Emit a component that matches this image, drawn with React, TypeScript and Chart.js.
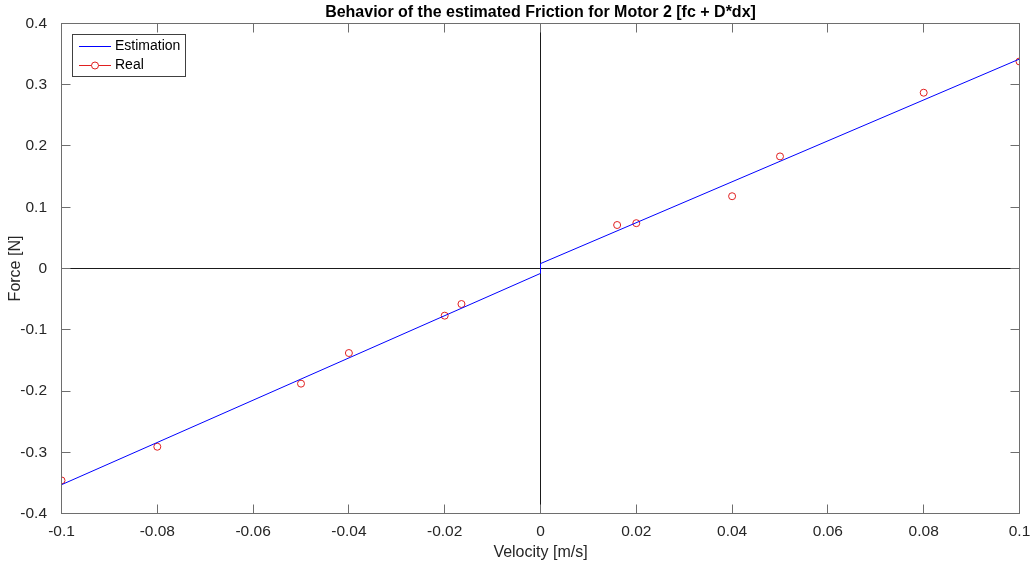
import React, { useEffect, useRef } from "react";
import { Chart, registerables } from "chart.js";

Chart.register(...registerables);

const TITLE = "Behavior of the estimated Friction for Motor 2 [fc + D*dx]";
const X_LABEL = "Velocity [m/s]";
const Y_LABEL = "Force [N]";
const LEGEND_LABELS = ["Estimation", "Real"];

const realVelocity = [-0.1, -0.08, -0.05, -0.04, -0.02, -0.0165, 0.016, 0.02, 0.04, 0.05, 0.08, 0.1];
const realForce = [-0.346, -0.291, -0.188, -0.138, -0.077, -0.058, 0.071, 0.074, 0.118, 0.183, 0.287, 0.338];

const estVelocity = [-0.1, 0, 0, 0.1];
const estForce = [-0.353, -0.008, 0.008, 0.342];

const xTicks = [-0.1, -0.08, -0.06, -0.04, -0.02, 0, 0.02, 0.04, 0.06, 0.08, 0.1];
const yTicks = [-0.4, -0.3, -0.2, -0.1, 0, 0.1, 0.2, 0.3, 0.4];

const FONT = "'Liberation Sans', Arial, Helvetica, sans-serif";
const AXIS_COLOR = "#6e6e6e";
const TEXT_COLOR = "#262626";
const BLUE = "#0000ff";
const RED = "#e02020";

const fmt = (v: number) => String(Number(v.toFixed(3)));

const matlabPlugin = {
  id: "matlab",
  beforeDatasetsDraw(chart: any) {
    const { ctx, chartArea, scales } = chart;
    const { left, right, top, bottom } = chartArea;
    const x0 = Math.round(scales.x.getPixelForValue(0) - 0.5) + 0.5;
    const y0 = Math.round(scales.y.getPixelForValue(0) - 0.5) + 0.5;
    ctx.save();
    ctx.strokeStyle = "#1a1a1a";
    ctx.lineWidth = 1;
    ctx.beginPath();
    ctx.moveTo(left, y0);
    ctx.lineTo(right, y0);
    ctx.moveTo(x0, top);
    ctx.lineTo(x0, bottom);
    ctx.stroke();
    ctx.restore();
  },
  afterDraw(chart: any) {
    const { ctx, chartArea, scales } = chart;
    const { left, right, top, bottom } = chartArea;
    ctx.save();
    // box
    ctx.strokeStyle = AXIS_COLOR;
    ctx.lineWidth = 1;
    ctx.strokeRect(left, top, right - left, bottom - top);
    // inward ticks
    const TL = 9;
    ctx.beginPath();
    xTicks.forEach((v) => {
      const px = Math.round(scales.x.getPixelForValue(v) - 0.5) + 0.5;
      ctx.moveTo(px, bottom);
      ctx.lineTo(px, bottom - TL);
      ctx.moveTo(px, top);
      ctx.lineTo(px, top + TL);
    });
    yTicks.forEach((v) => {
      const py = Math.round(scales.y.getPixelForValue(v) - 0.5) + 0.5;
      ctx.moveTo(left, py);
      ctx.lineTo(left + TL, py);
      ctx.moveTo(right, py);
      ctx.lineTo(right - TL, py);
    });
    ctx.stroke();

    // title
    const cx = (left + right) / 2;
    ctx.fillStyle = "#000";
    ctx.font = `bold 16px ${FONT}`;
    ctx.textAlign = "center";
    ctx.textBaseline = "middle";
    ctx.fillText(TITLE, cx, 13);

    // axis labels
    ctx.fillStyle = TEXT_COLOR;
    ctx.font = `16px ${FONT}`;
    ctx.fillText(X_LABEL, cx, 553);
    ctx.save();
    ctx.translate(16, (top + bottom) / 2);
    ctx.rotate(-Math.PI / 2);
    ctx.fillText(Y_LABEL, 0, 0);
    ctx.restore();

    // legend
    const lx = 72.5, ly = 34.5, lw = 113, lh = 42;
    ctx.fillStyle = "#ffffff";
    ctx.fillRect(lx, ly, lw, lh);
    ctx.strokeStyle = "#404040";
    ctx.strokeRect(lx, ly, lw, lh);
    const rows = [46.5, 65.5];
    ctx.lineWidth = 1;
    ctx.strokeStyle = BLUE;
    ctx.beginPath();
    ctx.moveTo(79, rows[0]);
    ctx.lineTo(111, rows[0]);
    ctx.stroke();
    ctx.strokeStyle = RED;
    ctx.beginPath();
    ctx.moveTo(79, rows[1]);
    ctx.lineTo(91.5, rows[1]);
    ctx.moveTo(98.5, rows[1]);
    ctx.lineTo(111, rows[1]);
    ctx.stroke();
    ctx.beginPath();
    ctx.arc(95, rows[1], 3.5, 0, Math.PI * 2);
    ctx.stroke();
    ctx.fillStyle = "#000";
    ctx.font = `14px ${FONT}`;
    ctx.textAlign = "left";
    ctx.fillText(LEGEND_LABELS[0], 115, rows[0]);
    ctx.fillText(LEGEND_LABELS[1], 115, rows[1]);
    ctx.restore();
  },
};

export default function App() {
  const ref = useRef<HTMLCanvasElement | null>(null);
  useEffect(() => {
    document.body.style.margin = "0";
    const canvas = ref.current;
    if (!canvas) return;
    const chart = new Chart(canvas, {
      type: "scatter",
      data: {
        datasets: [
          {
            label: LEGEND_LABELS[0],
            type: "line",
            data: estVelocity.map((v, i) => ({ x: v, y: estForce[i] })),
            borderColor: BLUE,
            borderWidth: 1,
            pointRadius: 0,
            fill: false,
            tension: 0,
          } as any,
          {
            label: LEGEND_LABELS[1],
            data: realVelocity.map((v, i) => ({ x: v, y: realForce[i] })),
            borderColor: RED,
            backgroundColor: "rgba(0,0,0,0)",
            borderWidth: 1,
            pointRadius: 3.5,
            pointStyle: "circle",
            showLine: false,
          },
        ],
      },
      options: {
        responsive: false,
        animation: false,
        devicePixelRatio: 1,
        layout: { padding: { top: 23.5, right: 16.5, left: 0, bottom: 0 } },
        plugins: {
          legend: { display: false },
          title: { display: false },
          tooltip: { enabled: false },
        },
        scales: {
          x: {
            type: "linear",
            min: -0.1,
            max: 0.1,
            grid: { display: false },
            border: { display: false },
            afterBuildTicks: (s: any) => {
              s.ticks = xTicks.map((v) => ({ value: v }));
            },
            afterFit: (s: any) => {
              s.height = 50.5;
            },
            ticks: {
              autoSkip: false,
              maxRotation: 0,
              padding: 1,
              color: TEXT_COLOR,
              font: { family: FONT, size: 15.5 },
              callback: (v: any) => fmt(Number(v)),
            },
          },
          y: {
            type: "linear",
            min: -0.4,
            max: 0.4,
            grid: { display: false },
            border: { display: false },
            afterBuildTicks: (s: any) => {
              s.ticks = yTicks.map((v) => ({ value: v }));
            },
            afterFit: (s: any) => {
              s.width = 61.5;
            },
            ticks: {
              autoSkip: false,
              padding: 6.5,
              color: TEXT_COLOR,
              font: { family: FONT, size: 15.5 },
              callback: (v: any) => fmt(Number(v)),
            },
          },
        },
      },
      plugins: [matlabPlugin],
    });
    return () => chart.destroy();
  }, []);
  return (
    <canvas
      ref={ref}
      width={1036}
      height={564}
      style={{ display: "block", width: 1036, height: 564 }}
    />
  );
}
